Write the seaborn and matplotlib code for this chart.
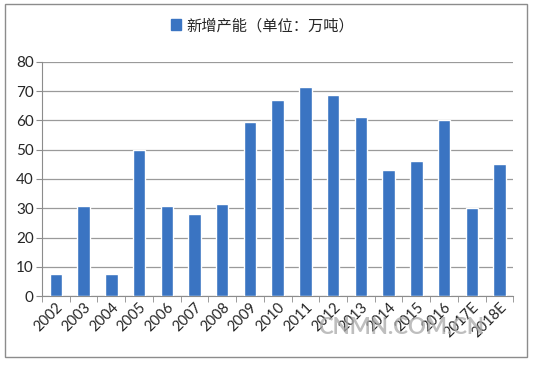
import matplotlib
matplotlib.use("Agg")
import matplotlib.pyplot as plt
import matplotlib.patches as mpatches
import seaborn as sns
import pandas as pd

years = ["2002", "2003", "2004", "2005", "2006", "2007", "2008", "2009", "2010",
         "2011", "2012", "2013", "2014", "2015", "2016", "2017E", "2018E"]
capacity = [7.5, 30.7, 7.5, 50, 30.7, 28, 31.5, 59.5, 67,
            71.5, 68.7, 61.2, 43, 46, 60, 30, 45]
series_name = "新增产能（单位：万吨）"

df = pd.DataFrame({"year": years, "value": capacity})

sns.set_style("white")
plt.rcParams['font.family'] = ['Lato', 'Noto Sans CJK SC', 'DejaVu Sans']

fig = plt.figure(figsize=(5.35, 3.66), dpi=100)
ax = fig.add_axes([0.0785, 0.191, 0.881, 0.640])

bar_color = "#3A74C2"
sns.barplot(data=df, x="year", y="value", color=bar_color, width=0.45,
            saturation=1, ax=ax, zorder=3)

ax.set_ylim(0, 80)
ax.set_yticks(range(0, 81, 10))
ax.set_xlim(-0.5, len(years) - 0.5)
ax.set_xlabel("")
ax.set_ylabel("")
ax.yaxis.grid(True, color="#9a9a9a", linewidth=0.9, zorder=0)
for side in ["top", "right"]:
    ax.spines[side].set_visible(False)
ax.spines["left"].set_color("#8c8c8c")
ax.spines["bottom"].set_color("#8c8c8c")

# tick marks between the categories like the original
ax.set_xticks([i - 0.5 for i in range(len(years) + 1)], minor=True)
ax.tick_params(axis="x", which="minor", length=4, color="#8c8c8c", direction="out", bottom=True)
ax.tick_params(axis="x", which="major", length=0, labelsize=10.5, pad=3)
ax.tick_params(axis="y", length=4, color="#8c8c8c", direction="out", labelsize=11, pad=2, left=True)
plt.setp(ax.get_xticklabels(), rotation=45, ha="right", rotation_mode="anchor")

# legend at the top
handle = mpatches.Patch(color=bar_color, label=series_name)
fig.legend(handles=[handle], loc="center", bbox_to_anchor=(0.49, 0.93),
           frameon=False, handlelength=0.7, handleheight=0.7, handletextpad=0.3,
           prop={"family": ["Noto Sans CJK SC"], "size": 11})

# outer chart border
fig.patches.append(mpatches.Rectangle((0.01, 0.025), 0.975, 0.963, transform=fig.transFigure,
                                      fill=False, edgecolor="#8c8c8c", linewidth=1))

# watermark
fig.text(0.75, 0.105, "CNMN.COM.CN", fontsize=16, color="#a8a8a8", alpha=0.75,
         ha="center", va="center", fontweight="bold", zorder=5)

fig.savefig("out.png", dpi=100)
